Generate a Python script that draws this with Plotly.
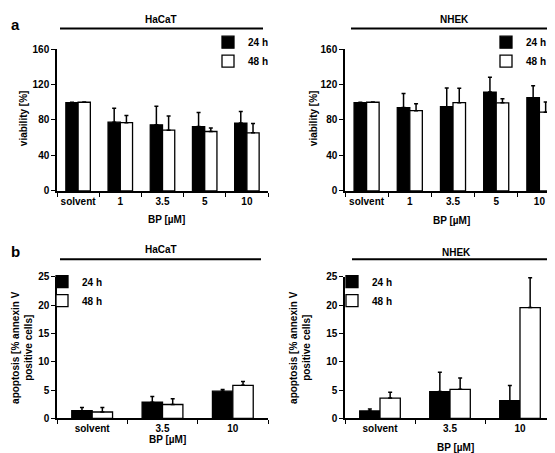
import plotly.graph_objects as go

W, H = 555, 453

# ---------------- data ----------------
cats_via = ["solvent", "1", "3.5", "5", "10"]
hacat_via_24 = [99.5, 77.5, 74.5, 72.5, 76.5]
hacat_via_24_sd = [0.5, 15.8, 21.0, 16.0, 13.0]
hacat_via_48 = [100.0, 77.0, 68.5, 67.0, 65.5]
hacat_via_48_sd = [0.3, 8.0, 16.0, 4.0, 10.5]
nhek_via_24 = [99.5, 94.0, 95.0, 111.5, 105.2]
nhek_via_24_sd = [0.5, 16.0, 21.0, 16.8, 13.5]
nhek_via_48 = [100.0, 90.5, 99.5, 99.3, 88.8]
nhek_via_48_sd = [0.3, 7.8, 16.3, 4.5, 11.5]

cats_apo = ["solvent", "3.5", "10"]
hacat_apo_24 = [1.38, 2.87, 4.82]
hacat_apo_24_sd = [0.57, 1.03, 0.30]
hacat_apo_48 = [1.15, 2.47, 5.85]
hacat_apo_48_sd = [0.80, 1.03, 0.69]
nhek_apo_24 = [1.32, 4.75, 3.15]
nhek_apo_24_sd = [0.34, 3.43, 2.69]
nhek_apo_48 = [3.60, 5.15, 19.57]
nhek_apo_48_sd = [1.03, 2.00, 5.26]

series_names = ["24 h", "48 h"]
via_ticks = [0, 40, 80, 120, 160]
apo_ticks = [0, 5, 10, 15, 20, 25]

FONT = "Liberation Sans, Arial, sans-serif"

def px_x(p):
    return p / W

def px_y(p):
    return 1 - p / H

fig = go.Figure()

panels = [
    ("x", "y", cats_via, hacat_via_24, hacat_via_24_sd, hacat_via_48, hacat_via_48_sd, "legend"),
    ("x2", "y2", cats_via, nhek_via_24, nhek_via_24_sd, nhek_via_48, nhek_via_48_sd, "legend2"),
    ("x3", "y3", cats_apo, hacat_apo_24, hacat_apo_24_sd, hacat_apo_48, hacat_apo_48_sd, "legend3"),
    ("x4", "y4", cats_apo, nhek_apo_24, nhek_apo_24_sd, nhek_apo_48, nhek_apo_48_sd, "legend4"),
]

for xa, ya, cats, v24, sd24, v48, sd48, leg in panels:
    for name, vals, sds, fill in [(series_names[0], v24, sd24, "black"),
                                  (series_names[1], v48, sd48, "white")]:
        fig.add_trace(go.Bar(
            x=cats, y=vals, name=name, xaxis=xa, yaxis=ya, legend=leg,
            marker=dict(color=fill, line=dict(color="black", width=1.3)),
            error_y=dict(type="data", array=sds, arrayminus=[0] * len(sds),
                         symmetric=False, color="black", thickness=1.5, width=2),
            showlegend=True,
        ))

tickfont = dict(family=FONT, size=10, color="black", weight="bold")

def xaxis(domain, anchor):
    return dict(domain=domain, anchor=anchor, type="category", showline=True,
                linecolor="black", linewidth=1.5, ticks="outside", tickson="boundaries",
                ticklen=4, tickwidth=1.2, tickcolor="black", tickfont=tickfont,
                tickangle=0, showgrid=False, zeroline=False, fixedrange=True)

def yaxis(domain, anchor, rng, ticks):
    return dict(domain=domain, anchor=anchor, range=rng, tickvals=ticks, showline=True,
                linecolor="black", linewidth=1.5, ticks="outside", ticklen=4,
                tickwidth=1.2, tickcolor="black", tickfont=tickfont, showgrid=False,
                zeroline=False, fixedrange=True)

top_dom = [px_y(181.7), px_y(36)]
bot_dom = [px_y(415.5), px_y(270)]
left_dom = [px_x(49), px_x(260)]
right_dom = [px_x(337), px_x(553)]
right_dom_b = [px_x(337), px_x(547)]

legfont = dict(family=FONT, size=10, color="black", weight="bold")

def legend(xp, yp, anchor="left"):
    return dict(x=px_x(xp), y=px_y(yp), xanchor=anchor, yanchor="top",
                bgcolor="rgba(0,0,0,0)", font=legfont, tracegroupgap=0,
                itemclick=False, itemdoubleclick=False)

fig.update_layout(
    width=W, height=H,
    margin=dict(l=0, r=0, t=0, b=0),
    paper_bgcolor="white", plot_bgcolor="white",
    barmode="group", bargap=0.42, bargroupgap=0,
    font=dict(family=FONT, color="black"),
    xaxis=xaxis(left_dom, "y"), yaxis=yaxis(top_dom, "x", [0, 160], via_ticks),
    xaxis2=xaxis(right_dom, "y2"), yaxis2=yaxis(top_dom, "x2", [0, 160], via_ticks),
    xaxis3=xaxis(left_dom, "y3"), yaxis3=yaxis(bot_dom, "x3", [0, 25], apo_ticks),
    xaxis4=xaxis(right_dom_b, "y4"), yaxis4=yaxis(bot_dom, "x4", [0, 25], apo_ticks),
    legend=legend(200, 14),
    legend2=legend(478, 14),
    legend3=legend(34, 260),
    legend4=legend(324, 260),
)

titlefont = dict(family=FONT, size=10, color="black", weight="bold")
ann = []
ann.append(dict(text="a", x=px_x(1), y=px_y(0), xanchor="left", yanchor="top",
                font=dict(family=FONT, size=15, color="black", weight="bold")))
ann.append(dict(text="b", x=px_x(1), y=px_y(233), xanchor="left", yanchor="top",
                font=dict(family=FONT, size=15, color="black", weight="bold")))
for txt, cx, cy in [("HaCaT", 153, 6), ("NHEK", 446, 6), ("HaCaT", 153, 242), ("NHEK", 448, 245)]:
    ann.append(dict(text=txt, x=px_x(cx), y=px_y(cy), xanchor="center", yanchor="middle",
                    font=titlefont))
for cx, cy in [(158, 211), (443, 212), (159, 437), (447, 445)]:
    ann.append(dict(text="BP [µM]", x=px_x(cx), y=px_y(cy), xanchor="center",
                    yanchor="middle", font=titlefont))
for cx, cy in [(15, 107), (305, 107)]:
    ann.append(dict(text="viability [%]", x=px_x(cx), y=px_y(cy), xanchor="center",
                    yanchor="middle", textangle=-90, font=titlefont))
for cx, cy in [(14, 343), (292, 343)]:
    ann.append(dict(text="apoptosis [% annexin V<br>positive cells]", x=px_x(cx),
                    y=px_y(cy), xanchor="center", yanchor="middle", textangle=-90,
                    font=titlefont))
for a in ann:
    a.update(xref="paper", yref="paper", showarrow=False)
fig.update_layout(annotations=ann)

shapes = []
for x0, x1, yy in [(52, 255, 15), (343, 554, 15), (52, 253, 252), (344, 553, 252)]:
    shapes.append(dict(type="line", xref="paper", yref="paper",
                       x0=px_x(x0), x1=px_x(x1), y0=px_y(yy), y1=px_y(yy),
                       line=dict(color="black", width=2)))
fig.update_layout(shapes=shapes)

fig.write_html("out.html")
